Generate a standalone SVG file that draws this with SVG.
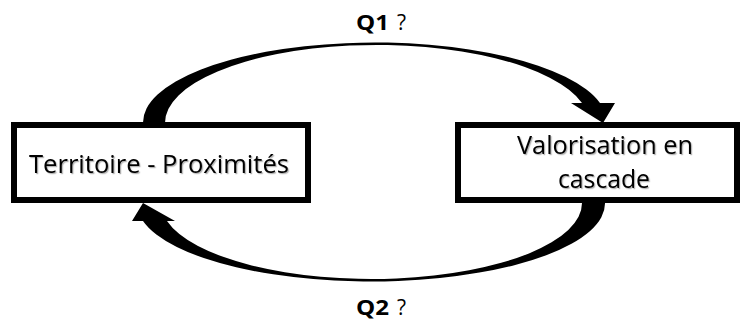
<svg xmlns="http://www.w3.org/2000/svg" width="744" height="320" viewBox="0 0 744 320">
  <defs>
    <filter id="tshadow" x="-5%" y="-20%" width="110%" height="140%">
      <feDropShadow dx="1.2" dy="1.2" stdDeviation="0.7" flood-color="#000" flood-opacity="0.3"/>
    </filter>
  </defs>
  <style>
    .box { fill: #fff; stroke: #000; stroke-width: 6; }
    .lbl { font-family: "Open Sans", "Liberation Sans", sans-serif; font-size: 25px; fill: #000; text-anchor: middle; filter: url(#tshadow); }
    .q { font-family: "Open Sans", "Liberation Sans", sans-serif; font-size: 21px; fill: #000; }
    .qb { font-weight: bold; }
    .arrow { fill: #000; stroke: none; }
  </style>
  <rect width="744" height="320" fill="#fff"/>

  <g id="connectors">
    <path id="arrow-q1" class="arrow" d="M143,123 A232,80 0 0 1 600,103 L615,103 L603,123 L571,103 L582,103 A212,78 0 0 0 165,123 Z"/>
    <path id="arrow-q2" class="arrow" d="M605,203 A234,78 0 0 1 143,221 L132,221 L143,203 L175,221 L167,221 A210.5,76 0 0 0 582,203 Z"/>
    <text class="q"><tspan class="qb" x="356" y="30" textLength="33" lengthAdjust="spacingAndGlyphs">Q1</tspan><tspan x="397" y="30">?</tspan></text>
    <text class="q"><tspan class="qb" x="356" y="315" textLength="33" lengthAdjust="spacingAndGlyphs">Q2</tspan><tspan x="397" y="315">?</tspan></text>
  </g>

  <g id="node-territoire">
    <rect class="box" x="14" y="125" width="294" height="75"/>
    <text class="lbl" x="159" y="173" textLength="260" lengthAdjust="spacingAndGlyphs">Territoire - Proximités</text>
  </g>

  <g id="node-valorisation">
    <rect class="box" x="458" y="125" width="279" height="75"/>
    <text class="lbl" x="605" y="154" textLength="176" lengthAdjust="spacingAndGlyphs">Valorisation en</text>
    <text class="lbl" x="604" y="188" textLength="92" lengthAdjust="spacingAndGlyphs">cascade</text>
  </g>
</svg>
